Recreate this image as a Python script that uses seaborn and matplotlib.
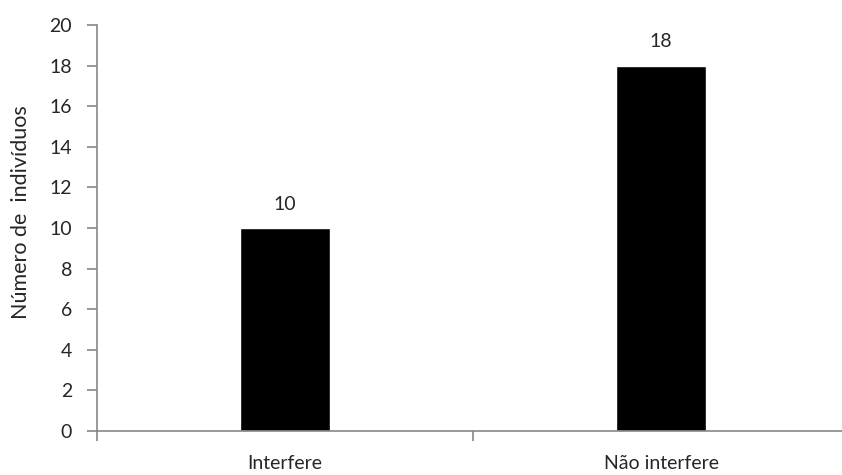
import matplotlib
matplotlib.use("Agg")
import matplotlib.pyplot as plt
import seaborn as sns
import pandas as pd

categories = ["Interfere", "Não interfere"]
values = [10, 18]
y_ticks = [0, 2, 4, 6, 8, 10, 12, 14, 16, 18, 20]
y_label = "Número de  indivíduos"

sns.set_style("white")
plt.rcParams['font.family'] = ['Lato', 'DejaVu Sans']
FS = 14

df = pd.DataFrame({"cat": categories, "val": values})

fig = plt.figure(figsize=(8.42, 4.75), dpi=100)
ax = fig.add_axes([97/842, 1 - 431/475, 752/842, (431 - 25)/475])
sns.barplot(data=df, x="cat", y="val", color="black", width=0.242, ax=ax, saturation=1)

ax.set_ylim(0, 20)
ax.set_xlim(-0.5, 1.5)
ax.set_yticks(y_ticks)
ax.set_yticklabels([str(t) for t in y_ticks], fontsize=FS)
ax.set_xticks([0, 1])
ax.set_xticklabels(categories, fontsize=FS)
ax.set_xticks([-0.5, 0.5, 1.5], minor=True)
ax.tick_params(axis='x', which='major', bottom=False, length=0, pad=17)
ax.tick_params(axis='x', which='minor', bottom=True, length=7, color='#888888', width=1.2, direction='out')
ax.tick_params(axis='y', which='major', left=True, length=7, color='#888888', width=1.2, direction='out', pad=11)
ax.set_xlabel("")
ax.set_ylabel(y_label, fontsize=15.5)
ax.yaxis.set_label_coords(-0.088, 0.54)

for s in ['top', 'right']:
    ax.spines[s].set_visible(False)
for s in ['left', 'bottom']:
    ax.spines[s].set_color('#888888')
    ax.spines[s].set_linewidth(1.2)

for i, v in enumerate(values):
    ax.annotate(str(v), (i, v), xytext=(0, 11), textcoords='offset points',
                ha='center', va='bottom', fontsize=FS)

fig.savefig("out.png", dpi=100)
